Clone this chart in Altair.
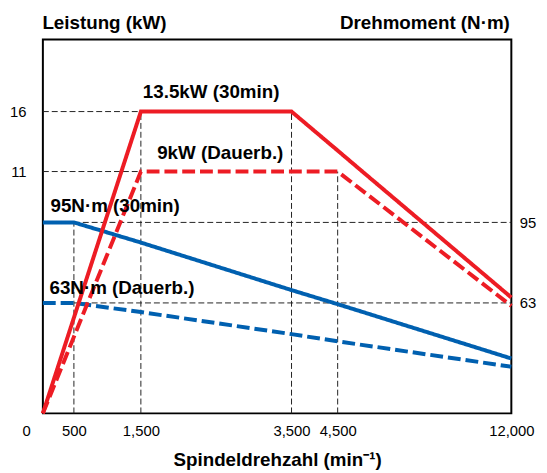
import altair as alt
import pandas as pd

# ---- data ----
x_ticks = [0, 500, 1500, 3500, 4500, 12000]

rpm_red_solid = [0, 500, 1209, 1500, 3500, 4500, 5567, 12000]
kw_red_solid = [0, 4.35, 11, 16, 16, 12.75, 11, 5.27]

rpm_red_dash = [0, 500, 1500, 4500, 12000]
kw_red_dash = [0, 3.48, 11, 11, 4.89]

rpm_blue = [0, 500, 1500, 3500, 4500, 12000]
nm_blue_solid = [95, 95, 87, 68.1, 62.3, 31.3]
nm_blue_dash = [63, 63, 57.8, 45.2, 41.1, 26.6]

power_ticks = [11, 16]
torque_ticks = [63, 95]

# reference (dashed black) lines
p_rule_x = [0, 0, 1500, 3500, 4500]
p_rule_x2 = [1500, 1500, 1500, 3500, 4500]
p_rule_y = [16, 11, 0, 0, 0]
p_rule_y2 = [16, 11, 16, 16, 11]

t_rule_x = [500, 500, 500]
t_rule_x2 = [12000, 12000, 500]
t_rule_y = [95, 63, 0]
t_rule_y2 = [95, 63, 95]

RED = "#ED1C24"
BLUE = "#0060B0"
FONT = "Liberation Sans"

W = 474.2
H = 378.5

xscale = alt.Scale(domain=x_ticks, range=[0, 31.4, 99.2, 251.7, 298.4, W], nice=False, zero=False)
pscale = alt.Scale(domain=[0, 11, 16], range=[H, 133.7, 73], nice=False, zero=False)
tscale = alt.Scale(domain=[0, 63, 95], range=[H, 266.7, 185.2], nice=False, zero=False)

red_df = pd.concat([
    pd.DataFrame({"rpm": rpm_red_solid, "kw": kw_red_solid, "s": "30min"}),
    pd.DataFrame({"rpm": rpm_red_dash, "kw": kw_red_dash, "s": "Dauerb."}),
])
blue_df = pd.concat([
    pd.DataFrame({"rpm": rpm_blue, "nm": nm_blue_solid, "s": "30min"}),
    pd.DataFrame({"rpm": rpm_blue, "nm": nm_blue_dash, "s": "Dauerb."}),
])
p_rules = pd.DataFrame({"x": p_rule_x, "x2": p_rule_x2, "y": p_rule_y, "y2": p_rule_y2})
t_rules = pd.DataFrame({"x": t_rule_x, "x2": t_rule_x2, "y": t_rule_y, "y2": t_rule_y2})

xaxis = alt.Axis(
    values=x_ticks, format=",.0f", ticks=False, domain=False, grid=False,
    labelFlush=False, labelOverlap=False,
    labelFont=FONT, labelFontSize=15, labelColor="black", labelPadding=10,
    labelOffset={"condition": {"test": "datum.value == 0", "value": -17}, "value": 0},
    title="Spindeldrehzahl (min⁻¹)", titleFont=FONT, titleFontSize=19, titleFontWeight="bold",
    titleColor="black", titleY=53, titleBaseline="alphabetic",
)

def X(field):
    return alt.X(field, scale=xscale, axis=xaxis)

dash_style = dict(color="#222", strokeWidth=1, strokeDash=[6, 3])

t_rule_layer = alt.Chart(t_rules).mark_rule(**dash_style).encode(
    x=X("x:Q"), x2="x2:Q",
    y=alt.Y("y:Q", scale=tscale, axis=None), y2="y2:Q",
)

p_rule_layer = alt.Chart(p_rules).mark_rule(**dash_style).encode(
    x=X("x:Q"), x2="x2:Q",
    y=alt.Y("y:Q", scale=pscale, axis=alt.Axis(
        orient="left", values=power_ticks, ticks=False, domain=False, grid=False,
        labelFont=FONT, labelFontSize=15, labelColor="black", labelPadding=17,
        title="Leistung (kW)", titleFont=FONT, titleFontSize=19, titleFontWeight="bold",
        titleColor="black", titleAngle=0, titleX=-1, titleY=-11,
        titleAlign="left", titleBaseline="alphabetic",
    )),
    y2="y2:Q",
)

dash_scale = alt.Scale(domain=["30min", "Dauerb."], range=[[1, 0], [13, 5]])

blue_layer = alt.Chart(blue_df).mark_line(
    color=BLUE, strokeWidth=4, strokeJoin="miter", strokeCap="butt"
).encode(
    x=X("rpm:Q"),
    y=alt.Y("nm:Q", scale=tscale, axis=alt.Axis(
        orient="right", values=torque_ticks, ticks=False, domain=False, grid=False,
        labelFont=FONT, labelFontSize=15, labelColor="black", labelPadding=8,
        title="Drehmoment (N·m)", titleFont=FONT, titleFontSize=19, titleFontWeight="bold",
        titleColor="black", titleAngle=0, titleX=-2, titleY=-11,
        titleAlign="right", titleBaseline="alphabetic",
    )),
    strokeDash=alt.StrokeDash("s:N", scale=dash_scale, legend=None),
    detail="s:N",
)

red_layer = alt.Chart(red_df).mark_line(
    color=RED, strokeWidth=4, strokeJoin="miter", strokeCap="butt"
).encode(
    x=X("rpm:Q"),
    y=alt.Y("kw:Q", scale=pscale, axis=None),
    strokeDash=alt.StrokeDash("s:N", scale=dash_scale, legend=None),
    detail="s:N",
)

# curve labels, anchored at curve corners
lbl_style = dict(font=FONT, fontSize=19, fontWeight="bold", color="black",
                 align="left", baseline="alphabetic")

p_lbl_text = ["13.5kW (30min)", "9kW (Dauerb.)"]
p_lbl_x = [1500, 1500]
p_lbl_y = [16, 11]
t_lbl_text = ["95N·m (30min)", "63N·m (Dauerb.)"]
t_lbl_x = [0, 0]
t_lbl_y = [95, 63]

def p_text(i, dx, dy):
    d = pd.DataFrame({"x": [p_lbl_x[i]], "y": [p_lbl_y[i]], "t": [p_lbl_text[i]]})
    return alt.Chart(d).mark_text(dx=dx, dy=dy, **lbl_style).encode(
        x=X("x:Q"),
        y=alt.Y("y:Q", scale=pscale, axis=None), text="t:N")

def t_text(i, dx, dy):
    d = pd.DataFrame({"x": [t_lbl_x[i]], "y": [t_lbl_y[i]], "t": [t_lbl_text[i]]})
    return alt.Chart(d).mark_text(dx=dx, dy=dy, **lbl_style).encode(
        x=X("x:Q"),
        y=alt.Y("y:Q", scale=tscale, axis=None), text="t:N")

chart = alt.layer(
    t_rule_layer, p_rule_layer, blue_layer, red_layer,
    p_text(0, 2, -13.3), p_text(1, 16.5, -12.7),
    t_text(0, 7.7, -10.7), t_text(1, 6.7, -8.7),
).resolve_scale(y="independent").properties(
    width=W, height=H,
    autosize=alt.AutoSizeParams(type="none"),
    padding={"left": 35.3, "top": 29, "right": 28, "bottom": 57},
).configure_view(stroke="black", strokeWidth=2)

chart.save("out.html", embed_options={"renderer": "svg", "actions": False})
